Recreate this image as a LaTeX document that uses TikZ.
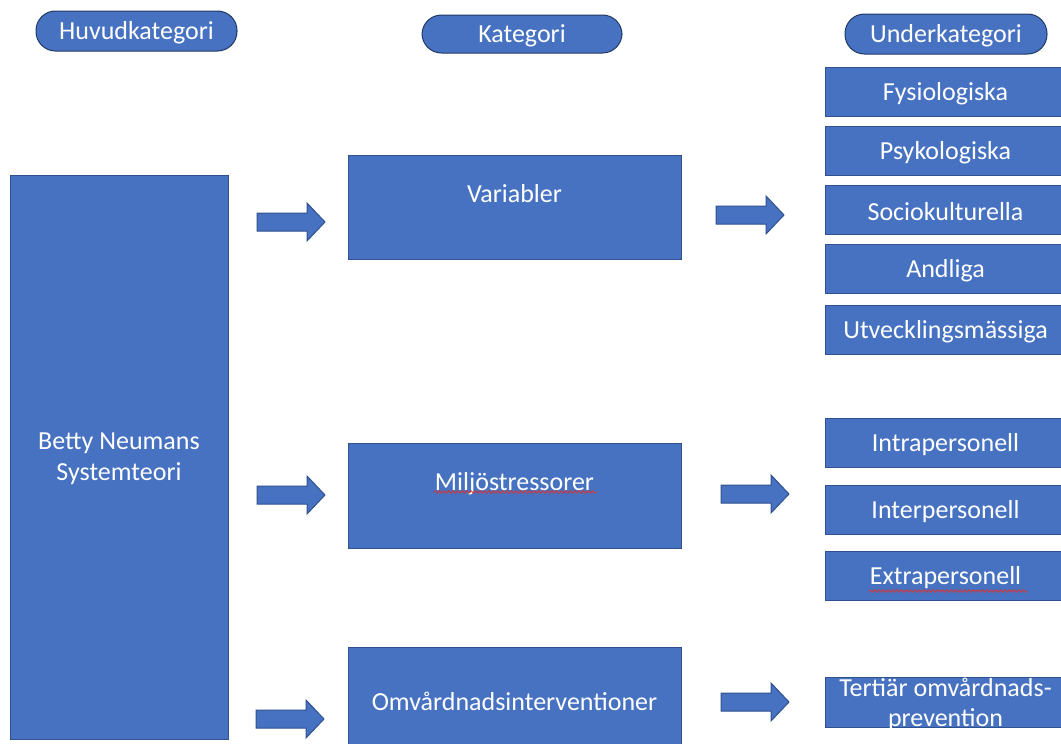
\documentclass[tikz,border=0pt]{standalone}
\usepackage{fontspec}
\setmainfont{Carlito}
\usetikzlibrary{decorations.pathmorphing}
\definecolor{boxfill}{HTML}{4672C1}
\definecolor{boxline}{HTML}{2F528F}
\definecolor{squig}{HTML}{E0312A}
\tikzset{
  box/.style={draw=boxline, fill=boxfill, line width=1pt},
  pillst/.style={draw=boxline!70!black, fill=boxfill, line width=1pt, rounded corners=19.5pt},
  txt/.style={text=white, font=\fontsize{26}{31}\selectfont, align=center, inner sep=0pt, yshift=-2pt},
  wavy/.style={draw=squig, line width=0.8pt, decorate, decoration={zigzag, amplitude=1.3pt, segment length=4.5pt}},
}
\newcommand{\mkbox}[5]{% name, x1,y1,x2,y2
  \path[box] (#2,#3) rectangle (#4,#5);
  \coordinate (#1) at ({(#2+#4)/2},{(#3+#5)/2});
}
\newcommand{\mkpill}[5]{%
  \path[pillst] (#2,#3) rectangle (#4,#5);
  \coordinate (#1) at ({(#2+#4)/2},{(#3+#5)/2});
}
\newcommand{\mkarrow}[3]{% name, x left, y center
  \path[draw=boxline, fill=boxfill, line width=1pt]
    (#2,{#3-9}) -- ({#2+50},{#3-9}) -- ({#2+50},{#3-19}) -- ({#2+68},#3)
    -- ({#2+50},{#3+19}) -- ({#2+50},{#3+9}) -- (#2,{#3+9}) -- cycle;
  \coordinate (#1) at ({#2+34},#3);
}
\begin{document}
\begin{tikzpicture}[x=1pt,y=-1pt]
\clip (0,0) rectangle (1061,744);
\fill[white] (0,0) rectangle (1061,744);
% header pills
\mkpill{hh}{36}{11}{237}{51}
\node[txt] at (hh) {Huvudkategori};
\mkpill{hk}{422}{15}{622}{53}
\node[txt] at (hk) {Kategori};
\mkpill{hu}{845}{14}{1047}{54}
\node[txt] at (hu) {Underkategori};
% main box
\mkbox{betty}{10}{175}{228}{739}
\node[txt] at (betty) {Betty Neumans\\Systemteori};
% category boxes
\mkbox{var}{348}{155}{681}{259}
\node[txt] (vart) at ([yshift=15pt]var) {Variabler};
\mkbox{mil}{348}{443}{681}{548}
\node[txt] (milt) at ([yshift=14pt]mil) {Miljöstressorer};
\draw[wavy] (434,492) -- (597,492);
\mkbox{omv}{348}{647}{681}{751}
\node[txt] at (omv) {Omvårdnadsinterventioner};
% sub boxes
\mkbox{s1}{825}{67}{1066}{116}
\node[txt] at (s1) {Fysiologiska};
\mkbox{s2}{825}{126}{1066}{175}
\node[txt] at (s2) {Psykologiska};
\mkbox{s3}{825}{185}{1066}{234}
\node[txt] at (s3) {Sociokulturella};
\mkbox{s4}{825}{244}{1066}{293}
\node[txt] at (s4) {Andliga};
\mkbox{s5}{825}{305}{1066}{354}
\node[txt] at (s5) {Utvecklingsmässiga};
\mkbox{s6}{825}{418}{1066}{467}
\node[txt] at (s6) {Intrapersonell};
\mkbox{s7}{825}{485}{1066}{534}
\node[txt] at (s7) {Interpersonell};
\mkbox{s8}{825}{551}{1066}{600}
\node[txt] at (s8) {Extrapersonell};
\draw[wavy] (869,591) -- (1027,591);
\mkbox{s9}{825}{677}{1066}{727}
\node[txt, font=\fontsize{26}{30}\selectfont] at (s9) {Tertiär omvårdnads-\\prevention};
% arrows
\mkarrow{a1}{257}{222}
\mkarrow{a2}{257}{495}
\mkarrow{a3}{256}{719}
\mkarrow{b1}{716}{215}
\mkarrow{b2}{721}{494}
\mkarrow{b3}{721}{702}
\end{tikzpicture}
\end{document}
